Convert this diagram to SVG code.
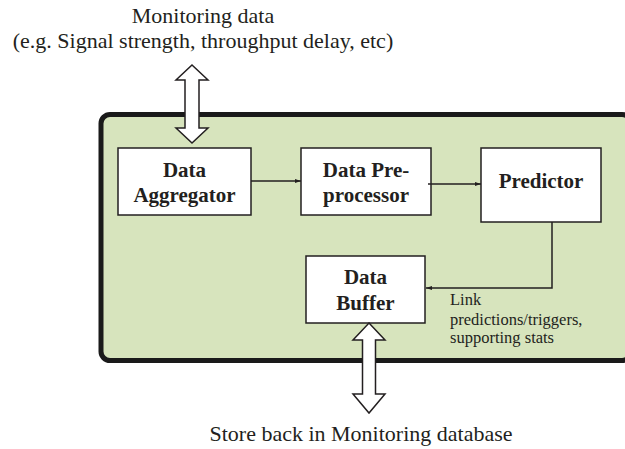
<svg xmlns="http://www.w3.org/2000/svg" width="625" height="449" viewBox="0 0 625 449" font-family="'Liberation Serif', 'Times New Roman', 'DejaVu Serif', serif">
<style>
text{font-family:'Liberation Serif','Times New Roman','DejaVu Serif',serif;fill:#231f20}
.lbl{font-size:22px;text-anchor:middle}
.node{fill:#fff;stroke:#231f20;stroke-width:1.5}
.nt{font-size:21px;font-weight:bold;text-anchor:middle}
.small{font-size:16.5px}
.conn{fill:none;stroke:#231f20;stroke-width:1.5}
.block{fill:#fff;stroke:#231f20;stroke-width:1.5;stroke-linejoin:miter}
</style>
<defs>
<marker id="ah" viewBox="0 0 10 10" refX="10" refY="5" markerWidth="6" markerHeight="6" orient="auto" markerUnits="userSpaceOnUse">
<path d="M0,1.5 L10,5 L0,8.5 z" fill="#231f20"/>
</marker>
</defs>
<rect id="container" x="101" y="114.5" width="530" height="246" rx="9" fill="#d7e4bd" stroke="#1a1a1a" stroke-width="5"/>
<g id="text-top">
<text class="lbl" x="203" y="23">Monitoring data</text>
<text class="lbl" x="203" y="48">(e.g. Signal strength, throughput delay, etc)</text>
</g>
<g id="aggregator">
<rect class="node" x="118" y="148" width="133" height="67"/>
<text class="nt" x="184.5" y="177">Data</text>
<text class="nt" x="184.5" y="202">Aggregator</text>
</g>
<g id="preprocessor">
<rect class="node" x="301" y="148" width="130" height="67"/>
<text class="nt" x="366" y="177">Data Pre-</text>
<text class="nt" x="366" y="202">processor</text>
</g>
<g id="predictor">
<rect class="node" x="481" y="148" width="120" height="74"/>
<text class="nt" x="541" y="188">Predictor</text>
</g>
<g id="buffer">
<rect class="node" x="306" y="256" width="119" height="67"/>
<text class="nt" x="365.5" y="284">Data</text>
<text class="nt" x="365.5" y="310">Buffer</text>
</g>
<g id="connectors">
<line class="conn" x1="251" y1="181" x2="301" y2="181" marker-end="url(#ah)"/>
<line class="conn" x1="428" y1="184" x2="481" y2="184" marker-end="url(#ah)"/>
<polyline class="conn" points="552,222 552,288 426,288" marker-end="url(#ah)"/>
<path class="block" d="M192,65 L208,80 L199,80 L199,128 L208,128 L192,143 L176,128 L185,128 L185,80 L176,80 Z"/>
<path class="block" d="M369,323 L385,340 L375.5,340 L375.5,394 L385,394 L369,413 L353,394 L362.5,394 L362.5,340 L353,340 Z"/>
</g>
<g id="link-label">
<text class="small" x="450" y="305">Link</text>
<text class="small" x="450" y="325">predictions/triggers,</text>
<text class="small" x="450" y="343">supporting stats</text>
</g>
<g id="text-bottom">
<text class="lbl" x="361" y="441">Store back in Monitoring database</text>
</g>
</svg>
